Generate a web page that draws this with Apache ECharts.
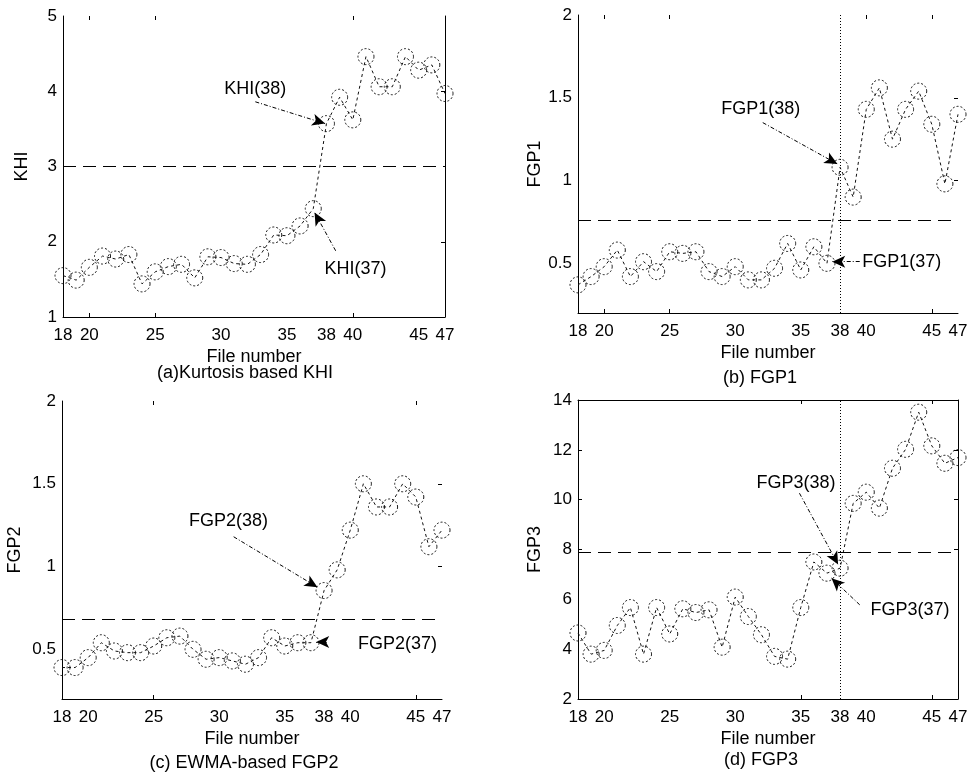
<!DOCTYPE html>
<html>
<head>
<meta charset="utf-8">
<title>KHI / FGP charts</title>
<script src="https://cdn.jsdelivr.net/npm/echarts@6/dist/echarts.min.js"></script>
<style>
  html, body { margin: 0; padding: 0; background: #fff; }
  #chart { width: 973px; height: 775px; }
</style>
</head>
<body>
<div id="chart"></div>
<script>
  const fileNumbers = [18, 19, 20, 21, 22, 23, 24, 25, 26, 27, 28, 29, 30, 31, 32,
    33, 34, 35, 36, 37, 38, 39, 40, 41, 42, 43, 44, 45, 46, 47];
  const xTickLabels = [18, 20, 25, 30, 35, 38, 40, 45, 47];

  const khiValues = [1.55, 1.49, 1.66, 1.81, 1.77, 1.83, 1.44, 1.60, 1.67, 1.70, 1.52, 1.80, 1.79, 1.71, 1.70,
    1.83, 2.09, 2.08, 2.21, 2.44, 3.57, 3.92, 3.62, 4.46, 4.06, 4.06, 4.46, 4.28, 4.35, 3.97];
  const fgp1Values = [0.37, 0.42, 0.48, 0.58, 0.42, 0.51, 0.45, 0.57, 0.56, 0.57, 0.45, 0.42, 0.48, 0.40, 0.40,
    0.47, 0.62, 0.46, 0.60, 0.50, 1.08, 0.90, 1.43, 1.56, 1.25, 1.43, 1.54, 1.34, 0.98, 1.40];
  const fgp2Values = [0.39, 0.39, 0.45, 0.54, 0.49, 0.48, 0.48, 0.52, 0.57, 0.58, 0.50, 0.44, 0.45, 0.43, 0.41,
    0.45, 0.57, 0.52, 0.54, 0.54, 0.855, 0.98, 1.22, 1.50, 1.36, 1.36, 1.50, 1.42, 1.12, 1.22];
  const fgp3Values = [4.65, 3.80, 3.95, 4.95, 5.67, 3.80, 5.67, 4.61, 5.62, 5.47, 5.58, 4.08, 6.09, 5.31, 4.58,
    3.71, 3.60, 5.67, 7.50, 7.05, 7.25, 9.85, 10.30, 9.66, 11.26, 12.02, 13.51, 12.16, 11.46, 11.69];

  const khiThreshold = 3;
  const fgp1Threshold = 0.76;
  const fgp2Threshold = 0.68;
  const fgp3Threshold = 7.9;

  const khiYLabels = [1, 2, 3, 4, 5];
  const fgpYLabels = [0.5, 1, 1.5, 2];
  const fgp3YLabels = [2, 4, 6, 8, 10, 12, 14];

  // annotation text spot, arrow start, arrow tip (data coords)
  const khiNotes = [
    { text: "KHI(38)", at: [32.6, 4.03], from: [32.6, 3.86], to: [37.9, 3.57] },
    { text: "KHI(37)", at: [40.2, 1.64], from: [38.7, 1.88], to: [37.1, 2.39] },
  ];
  const fgp1Notes = [
    { text: "FGP1(38)", at: [31.95, 1.43], from: [32.1, 1.35], to: [37.8, 1.10] },
    { text: "FGP1(37)", at: [42.7, 0.505], from: [39.5, 0.51], to: [37.4, 0.51] },
  ];
  const fgp2Notes = [
    { text: "FGP2(38)", at: [30.7, 1.275], from: [31.1, 1.18], to: [37.5, 0.875] },
    { text: "FGP2(37)", at: [43.6, 0.533], from: [38.2, 0.545], to: [37.4, 0.545] },
  ];
  const fgp3Notes = [
    { text: "FGP3(38)", at: [34.64, 10.67], from: [34.9, 10.26], to: [37.85, 7.4] },
    { text: "FGP3(37)", at: [43.34, 5.58], from: [39.5, 5.78], to: [37.35, 6.85] },
  ];

  const FONT = '"Liberation Sans", Arial, sans-serif';
  const INK = "#000";

  const panels = [
    {
      grid: { left: 63, top: 16, width: 382, height: 301 },
      values: khiValues, threshold: khiThreshold, notes: khiNotes,
      yMin: 1, yMax: 5, yLabels: khiYLabels, yName: "KHI", yNameGap: 32,
      caption: "(a)Kurtosis based KHI", captionAt: [245, 373],
      bottomTicks: [20, 25, 40], topTicks: [20, 25, 40], topLine: false,
      leftTicks: [], rightTicks: [2, 4], rightLine: true, marker38: false,
    },
    {
      grid: { left: 578, top: 15, width: 380, height: 298 },
      values: fgp1Values, threshold: fgp1Threshold, notes: fgp1Notes,
      yMin: 0.2, yMax: 2, yLabels: fgpYLabels, yName: "FGP1", yNameGap: 34,
      caption: "(b) FGP1", captionAt: [760, 378],
      bottomTicks: [20, 25, 45], topTicks: [20, 25, 40, 45], topLine: false,
      leftTicks: [], rightTicks: [1, 1.5], rightLine: false, marker38: true,
    },
    {
      grid: { left: 62, top: 401, width: 380, height: 298 },
      values: fgp2Values, threshold: fgp2Threshold, notes: fgp2Notes,
      yMin: 0.2, yMax: 2, yLabels: fgpYLabels, yName: "FGP2", yNameGap: 38,
      caption: "(c) EWMA-based FGP2", captionAt: [244, 763],
      bottomTicks: [25, 45], topTicks: [25, 45], topLine: false,
      leftTicks: [], rightTicks: [1, 1.5], rightLine: false, marker38: false,
    },
    {
      grid: { left: 578, top: 400, width: 380, height: 299 },
      values: fgp3Values, threshold: fgp3Threshold, notes: fgp3Notes,
      yMin: 2, yMax: 14, yLabels: fgp3YLabels, yName: "FGP3", yNameGap: 34,
      caption: "(d) FGP3", captionAt: [761, 760],
      bottomTicks: [35, 45], topTicks: [35, 45], topLine: true,
      leftTicks: [8, 10, 12], rightTicks: [8, 10, 12], rightLine: true, marker38: true,
    },
  ];

  function axisText(size) {
    return { color: INK, fontSize: size, fontFamily: FONT };
  }

  function buildOption() {
    const grids = [];
    const xAxes = [];
    const yAxes = [];
    const series = [];
    const graphics = [];

    panels.forEach((p, i) => {
      grids.push(p.grid);

      xAxes.push({
        gridIndex: i, type: "value", min: 18, max: 47, position: "bottom",
        name: "File number", nameLocation: "middle", nameGap: 31,
        nameTextStyle: axisText(18),
        axisLine: { show: true, onZero: false, lineStyle: { color: INK, width: 1 } },
        axisTick: { show: true, inside: true, length: 4, customValues: p.bottomTicks, lineStyle: { color: INK } },
        axisLabel: Object.assign({ customValues: xTickLabels, margin: 10 }, axisText(17)),
        splitLine: { show: false },
      });
      xAxes.push({
        gridIndex: i, type: "value", min: 18, max: 47, position: "top",
        axisLine: { show: p.topLine, onZero: false, lineStyle: { color: INK, width: 1 } },
        axisTick: { show: true, inside: true, length: 4, customValues: p.topTicks, lineStyle: { color: INK } },
        axisLabel: { show: false },
        splitLine: { show: false },
      });

      yAxes.push({
        gridIndex: i, type: "value", min: p.yMin, max: p.yMax, position: "left",
        name: p.yName, nameLocation: "middle", nameGap: p.yNameGap,
        nameTextStyle: axisText(18),
        axisLine: { show: true, onZero: false, lineStyle: { color: INK, width: 1 } },
        axisTick: { show: p.leftTicks.length > 0, inside: true, length: 4, customValues: p.leftTicks, lineStyle: { color: INK } },
        axisLabel: Object.assign({ customValues: p.yLabels, margin: 6 }, axisText(17)),
        splitLine: { show: false },
      });
      yAxes.push({
        gridIndex: i, type: "value", min: p.yMin, max: p.yMax, position: "right",
        axisLine: { show: p.rightLine, onZero: false, lineStyle: { color: INK, width: 1 } },
        axisTick: { show: true, inside: true, length: 4, customValues: p.rightTicks, lineStyle: { color: INK } },
        axisLabel: { show: false },
        splitLine: { show: false },
      });

      const refLines = [
        { yAxis: p.threshold, lineStyle: { type: [13, 7], color: INK, width: 1 } },
      ];
      if (p.marker38) {
        refLines.push({ xAxis: 38, lineStyle: { type: [1, 2], color: INK, width: 1 } });
      }

      series.push({
        type: "line",
        xAxisIndex: i * 2,
        yAxisIndex: i * 2,
        data: fileNumbers.map((n, k) => [n, p.values[k]]),
        symbol: "circle",
        symbolSize: 16,
        itemStyle: { color: "rgba(0,0,0,0)", borderColor: "#111", borderWidth: 1, borderType: [2, 2] },
        lineStyle: { color: "#111", width: 1, type: [3, 3] },
        markLine: {
          silent: true, symbol: "none", label: { show: false },
          data: refLines,
        },
        z: 3,
      });

      series.push({
        type: "line",
        xAxisIndex: i * 2,
        yAxisIndex: i * 2,
        data: [],
        markLine: {
          silent: true,
          symbol: ["none", "arrow"],
          symbolSize: [9, 13],
          label: { show: false },
          lineStyle: { color: INK, width: 1, type: [4, 2, 1, 2] },
          data: p.notes.map((n) => [{ coord: n.from }, { coord: n.to }]),
        },
        markPoint: {
          silent: true,
          symbol: "rect",
          symbolSize: 1,
          itemStyle: { color: "rgba(0,0,0,0)" },
          label: Object.assign({ show: true, position: "inside", formatter: (d) => d.name }, axisText(18)),
          data: p.notes.map((n) => ({ name: n.text, coord: n.at })),
        },
        z: 4,
      });

      graphics.push({
        type: "text",
        x: p.captionAt[0],
        y: p.captionAt[1],
        style: {
          text: p.caption, fill: INK, font: "18px " + FONT,
          textAlign: "center", textVerticalAlign: "middle",
        },
      });
    });

    return {
      animation: false,
      backgroundColor: "#fff",
      grid: grids,
      xAxis: xAxes,
      yAxis: yAxes,
      series: series,
      graphic: graphics,
    };
  }

  const chart = echarts.init(document.getElementById("chart"), null, { renderer: "canvas" });
  chart.setOption(buildOption());
</script>
</body>
</html>
